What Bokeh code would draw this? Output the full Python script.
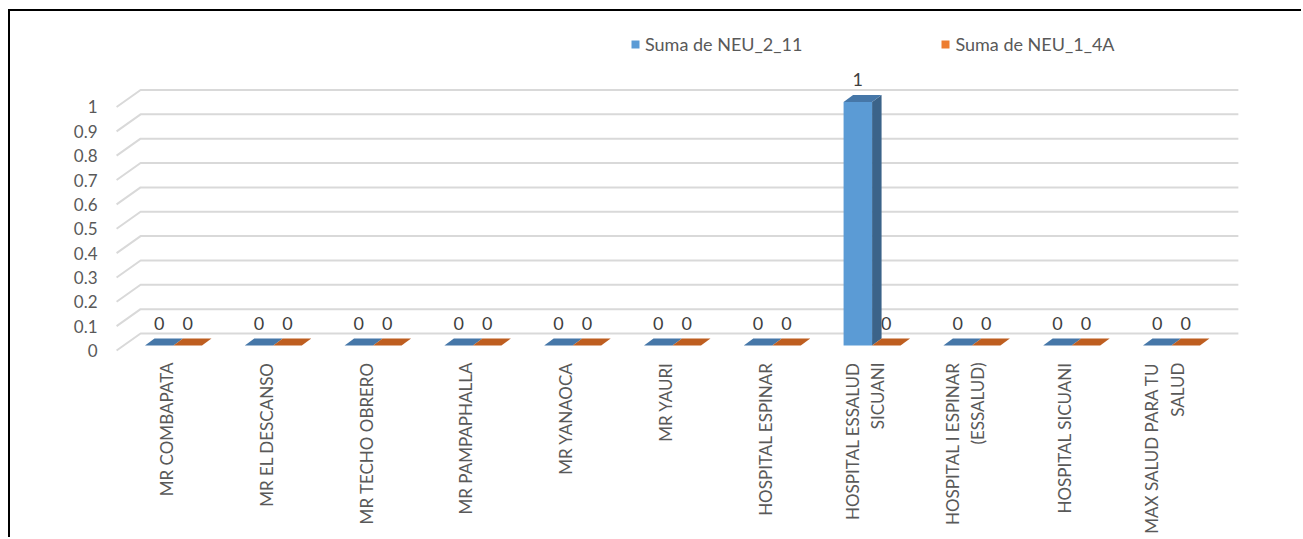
import math
from bokeh.plotting import figure
from bokeh.models import Range1d, FixedTicker, Legend, LegendItem, ColumnDataSource
from bokeh.core.properties import value
from bokeh.embed import file_html
from bokeh.resources import INLINE

# ---------------- data ----------------
categories = ["MR COMBAPATA", "MR EL DESCANSO", "MR TECHO OBRERO", "MR PAMPAPHALLA",
              "MR YANAOCA", "MR YAURI", "HOSPITAL ESPINAR", "HOSPITAL ESSALUD SICUANI",
              "HOSPITAL I ESPINAR (ESSALUD)", "HOSPITAL SICUANI", "MAX SALUD PARA TU SALUD"]
tick_labels = ["MR COMBAPATA", "MR EL DESCANSO", "MR TECHO OBRERO", "MR PAMPAPHALLA",
               "MR YANAOCA", "MR YAURI", "HOSPITAL ESPINAR", "HOSPITAL ESSALUD\nSICUANI",
               "HOSPITAL I ESPINAR\n(ESSALUD)", "HOSPITAL SICUANI", "MAX SALUD PARA TU\nSALUD"]
neu_2_11 = [0, 0, 0, 0, 0, 0, 0, 1, 0, 0, 0]
neu_1_4a = [0, 0, 0, 0, 0, 0, 0, 0, 0, 0, 0]
series_names = ["Suma de NEU_2_11", "Suma de NEU_1_4A"]
y_ticks = [0, 0.1, 0.2, 0.3, 0.4, 0.5, 0.6, 0.7, 0.8, 0.9, 1]
y_tick_labels = ["0", "0.1", "0.2", "0.3", "0.4", "0.5", "0.6", "0.7", "0.8", "0.9", "1"]

# ---------------- style / geometry ----------------
FONT = "Lato"
PX_X, PX_Y = 99.8, 243.5            # pixels per data unit
plane_dx, plane_dy = 24 / PX_X, 17 / PX_Y
bar_off_x, bar_off_y = 7 / PX_X, 5 / PX_Y
bar_w = 28.5 / PX_X
bar_dx, bar_dy = 9.5 / PX_X, 7 / PX_Y
front_colors = ["#5B9BD5", "#ED7D31"]
top_colors = ["#4677A8", "#BE5E20"]
side_colors = ["#3B6389", "#9E4E19"]
grid_color = "#D9D9D9"
n = len(categories)

p = figure(width=1293, height=528,
           x_range=Range1d(-0.601, 10.862), y_range=Range1d(-0.0082, 1.388),
           output_backend="svg", toolbar_location=None,
           min_border_left=96, min_border_right=53, min_border_top=1, min_border_bottom=187)
p.styles = {"margin-left": "8px", "margin-top": "9px",
            "border-left": "2px solid #000000", "border-top": "2px solid #000000"}
p.xgrid.visible = False
p.ygrid.visible = False
p.outline_line_color = None
p.background_fill_color = "white"
p.border_fill_color = "white"

# 3D walls gridlines
x_front_left = -0.5
x_back_left = x_front_left + plane_dx
x_back_right = n - 0.5 + plane_dx
gx, gy = [], []
for v in y_ticks:
    gx.append([x_front_left, x_back_left, x_back_right])
    gy.append([v, v + plane_dy, v + plane_dy])
p.multi_line(xs=gx, ys=gy, line_color=grid_color, line_width=2)

# value labels (drawn before bars)
for s, vals in enumerate([neu_2_11, neu_1_4a]):
    lx = [i + bar_off_x + (s - 0.5) * bar_w for i in range(n)]
    ly = [v + bar_off_y + 22 / PX_Y for v in vals]
    src = ColumnDataSource(dict(x=lx, y=ly, t=[f"{v:g}" for v in vals]))
    p.text(x="x", y="y", text="t", source=src, text_align="center", text_baseline="middle",
           text_font=value(FONT), text_font_size="18px", text_color="#404040")

# bars
legend_items = []
for s, vals in enumerate([neu_2_11, neu_1_4a]):
    x0 = [i + bar_off_x + (s - 1) * bar_w for i in range(n)]
    x1 = [a + bar_w for a in x0]
    b = bar_off_y
    tops = [b + v for v in vals]
    sx = [[r, r, r + bar_dx, r + bar_dx] for r in x1]
    sy = [[b, t, t + bar_dy, b + bar_dy] for t in tops]
    p.patches(xs=sx, ys=sy, fill_color=side_colors[s], line_color=None)
    fr = p.quad(left=x0, right=x1, bottom=[b] * n, top=tops,
                fill_color=front_colors[s], line_color=None)
    tx = [[l, r, r + bar_dx, l + bar_dx] for l, r in zip(x0, x1)]
    ty = [[t, t, t + bar_dy, t + bar_dy] for t in tops]
    p.patches(xs=tx, ys=ty, fill_color=top_colors[s], line_color=None)
    legend_items.append(LegendItem(label=series_names[s], renderers=[fr]))

# axes
p.xaxis.ticker = FixedTicker(ticks=list(range(n)))
p.xaxis.major_label_overrides = {i: lab for i, lab in enumerate(tick_labels)}
p.xaxis.major_label_orientation = math.pi / 2
p.yaxis.ticker = FixedTicker(ticks=y_ticks)
p.yaxis.major_label_overrides = {t: lab for t, lab in zip(y_ticks, y_tick_labels)}
for ax in (p.xaxis, p.yaxis):
    ax.axis_line_color = None
    ax.major_tick_line_color = None
    ax.minor_tick_line_color = None
    ax.major_tick_out = 0
    ax.major_tick_in = 0
    ax.minor_tick_out = 0
    ax.minor_tick_in = 0
    ax.major_label_text_font = FONT
    ax.major_label_text_font_size = "17px"
    ax.major_label_text_color = "#595959"
p.yaxis.major_label_standoff = 9
p.xaxis.major_label_standoff = 10

legend = Legend(items=legend_items, orientation="horizontal", location=(524, 297),
                glyph_width=10, glyph_height=10, label_standoff=5, spacing=138,
                padding=0, margin=0, border_line_color=None, background_fill_alpha=0,
                label_text_font=FONT, label_text_font_size="18px",
                label_text_color="#595959")
p.add_layout(legend)

open("out.html", "w").write(file_html(p, INLINE))
